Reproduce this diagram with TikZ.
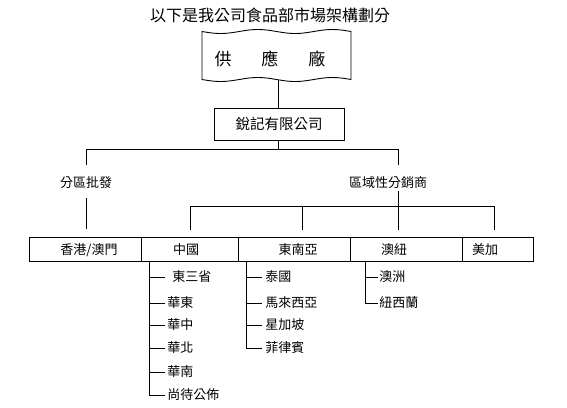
\documentclass[tikz,border=0pt]{standalone}
\usepackage{fontspec}
\setmainfont{Noto Sans CJK TC}
\begin{document}
\begin{tikzpicture}[x=1pt,y=-1pt,line width=0.9pt,
  txt/.style={inner sep=0pt,font=\fontsize{13}{13}\selectfont},
  boxr/.style={draw,inner sep=0pt},
  br/.style={inner sep=0pt,anchor=west,font=\fontsize{13}{13}\selectfont}]
\useasboundingbox (0,0) rectangle (567,407);
\fill[white] (0,0) rectangle (567,407);
% title
\node[inner sep=0pt,font=\fontsize{16}{16}\selectfont] (title) at (270,15) {以下是我公司食品部市場架構劃分};
% wavy supplier box
\draw[domain=0:149,samples=60,smooth,variable=\t]
  plot ({202+\t},{31.5+2*sin(\t/149*720)})
  -- plot ({351-\t},{79.5+2*sin((149-\t)/149*720)}) -- cycle;
\node[inner sep=0pt,font=\fontsize{17}{17}\selectfont] (sup) at (270,58.5) {供\hspace{30pt}應\hspace{30pt}廠};
\coordinate (supB) at (278,80);
% company
\node[boxr,minimum width=130pt,minimum height=32pt,font=\fontsize{14.5}{14.5}\selectfont] (comp) at (279,124) {銳記有限公司};
\draw (supB) -- (supB |- comp.north);
\coordinate (j1) at (278,149);
\coordinate (l1) at (86,149);
\coordinate (r1) at (398,149);
\draw (comp.south -| j1) -- (j1);
\draw (l1) -- (r1);
\node[txt] (fen) at (86,183) {分區批發};
\node[txt] (qu) at (388,183) {區域性分銷商};
\draw (l1) -- (86,165);
\draw (r1) -- (398,165);
% lower connectors
\coordinate (fenA) at (86,198);
\coordinate (fenB) at (86,229);
\draw (fenA) -- (fenB);
\coordinate (quA) at (398,191);
\coordinate (h1) at (190,206);
\coordinate (h4) at (494,206);
\draw (quA) -- (398,230);
\draw (h1) -- (h4);
\foreach \x in {190,302,494} \draw (\x,206) -- (\x,230);
% row of boxes
\draw (29,237) rectangle (533,261);
\foreach \x in {141,238,350,462} \draw (\x,237) -- (\x,261);
\node[txt] (hk) at (89,250) {香港/澳門};
\node[txt] (cn) at (186,250) {中國};
\node[txt] (sea) at (298,250) {東南亞};
\node[txt] (au) at (394,250) {澳紐};
\node[txt] (us) at (485,250) {美加};
% China branches
\draw (149,261) -- (149,395) -- (165,395);
\foreach \y in {277,303,325,348,372} \draw (149,\y) -- (165,\y);
\node[br] (c1) at (172,277) {東三省};
\node[br] (c2) at (167,303) {華東};
\node[br] (c3) at (167,325) {華中};
\node[br] (c4) at (167,348) {華北};
\node[br] (c5) at (167,372) {華南};
\node[br] (c6) at (167,395) {尚待公佈};
% SE Asia branches
\draw (246,261) -- (246,348) -- (262,348);
\foreach \y in {277,303,325} \draw (246,\y) -- (262,\y);
\node[br] (s1) at (265,277) {泰國};
\node[br] (s2) at (265,303) {馬來西亞};
\node[br] (s3) at (265,325) {星加坡};
\node[br] (s4) at (265,348) {菲律賓};
% Aus/NZ branches
\draw (365,261) -- (365,303) -- (378,303);
\draw (365,277) -- (378,277);
\node[br] (a1) at (379,277) {澳洲};
\node[br] (a2) at (379,303) {紐西蘭};
\end{tikzpicture}
\end{document}
